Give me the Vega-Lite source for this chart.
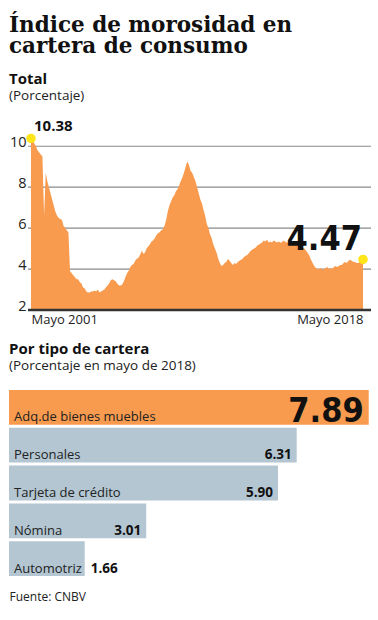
{
  "$schema": "https://vega.github.io/schema/vega-lite/v6.json",
  "background": "white",
  "padding": {"left": 8, "top": 14, "right": 0, "bottom": 10},
  "title": {
    "text": ["Índice de morosidad en", "cartera de consumo"],
    "anchor": "start",
    "frame": "group",
    "font": "DejaVu Serif",
    "fontSize": 21.5,
    "fontWeight": "bold",
    "lineHeight": 21,
    "color": "#111111",
    "offset": 14
  },
  "spacing": 14,
  "datasets": {
    "serie": [
      {"fecha": "2001-05-01", "v": 10.38}, {"fecha": "2001-06-01", "v": 10.3}, {"fecha": "2001-07-01", "v": 10.15}, {"fecha": "2001-08-01", "v": 10.0},
      {"fecha": "2001-09-01", "v": 9.8}, {"fecha": "2001-10-01", "v": 9.7}, {"fecha": "2001-11-01", "v": 9.6}, {"fecha": "2001-12-01", "v": 9.5},
      {"fecha": "2002-01-01", "v": 6.6}, {"fecha": "2002-02-01", "v": 8.7}, {"fecha": "2002-03-01", "v": 8.3}, {"fecha": "2002-04-01", "v": 8.0},
      {"fecha": "2002-05-01", "v": 7.7}, {"fecha": "2002-06-01", "v": 7.4}, {"fecha": "2002-07-01", "v": 7.1}, {"fecha": "2002-08-01", "v": 6.8},
      {"fecha": "2002-09-01", "v": 6.6}, {"fecha": "2002-10-01", "v": 6.5}, {"fecha": "2002-11-01", "v": 6.45}, {"fecha": "2002-12-01", "v": 6.4},
      {"fecha": "2003-01-01", "v": 6.1}, {"fecha": "2003-02-01", "v": 6.0}, {"fecha": "2003-03-01", "v": 5.9}, {"fecha": "2003-04-01", "v": 5.8},
      {"fecha": "2003-05-01", "v": 3.9}, {"fecha": "2003-06-01", "v": 3.8}, {"fecha": "2003-07-01", "v": 3.7}, {"fecha": "2003-08-01", "v": 3.6},
      {"fecha": "2003-09-01", "v": 3.5}, {"fecha": "2003-10-01", "v": 3.5}, {"fecha": "2003-11-01", "v": 3.35}, {"fecha": "2003-12-01", "v": 3.3},
      {"fecha": "2004-01-01", "v": 3.1}, {"fecha": "2004-02-01", "v": 3.05}, {"fecha": "2004-03-01", "v": 2.9}, {"fecha": "2004-04-01", "v": 2.85},
      {"fecha": "2004-05-01", "v": 2.85}, {"fecha": "2004-06-01", "v": 2.9}, {"fecha": "2004-07-01", "v": 2.9}, {"fecha": "2004-08-01", "v": 2.95},
      {"fecha": "2004-09-01", "v": 2.9}, {"fecha": "2004-10-01", "v": 3.0}, {"fecha": "2004-11-01", "v": 2.85}, {"fecha": "2004-12-01", "v": 2.9},
      {"fecha": "2005-01-01", "v": 2.95}, {"fecha": "2005-02-01", "v": 3.0}, {"fecha": "2005-03-01", "v": 3.1}, {"fecha": "2005-04-01", "v": 3.2},
      {"fecha": "2005-05-01", "v": 3.3}, {"fecha": "2005-06-01", "v": 3.45}, {"fecha": "2005-07-01", "v": 3.5}, {"fecha": "2005-08-01", "v": 3.45},
      {"fecha": "2005-09-01", "v": 3.4}, {"fecha": "2005-10-01", "v": 3.3}, {"fecha": "2005-11-01", "v": 3.2}, {"fecha": "2005-12-01", "v": 3.2},
      {"fecha": "2006-01-01", "v": 3.25}, {"fecha": "2006-02-01", "v": 3.4}, {"fecha": "2006-03-01", "v": 3.6}, {"fecha": "2006-04-01", "v": 3.8},
      {"fecha": "2006-05-01", "v": 3.9}, {"fecha": "2006-06-01", "v": 4.1}, {"fecha": "2006-07-01", "v": 4.2}, {"fecha": "2006-08-01", "v": 4.25},
      {"fecha": "2006-09-01", "v": 4.4}, {"fecha": "2006-10-01", "v": 4.5}, {"fecha": "2006-11-01", "v": 4.55}, {"fecha": "2006-12-01", "v": 4.7},
      {"fecha": "2007-01-01", "v": 4.9}, {"fecha": "2007-02-01", "v": 4.75}, {"fecha": "2007-03-01", "v": 4.8}, {"fecha": "2007-04-01", "v": 5.0},
      {"fecha": "2007-05-01", "v": 5.1}, {"fecha": "2007-06-01", "v": 5.2}, {"fecha": "2007-07-01", "v": 5.35}, {"fecha": "2007-08-01", "v": 5.4},
      {"fecha": "2007-09-01", "v": 5.5}, {"fecha": "2007-10-01", "v": 5.65}, {"fecha": "2007-11-01", "v": 5.75}, {"fecha": "2007-12-01", "v": 5.8},
      {"fecha": "2008-01-01", "v": 5.9}, {"fecha": "2008-02-01", "v": 5.95}, {"fecha": "2008-03-01", "v": 6.1}, {"fecha": "2008-04-01", "v": 6.4},
      {"fecha": "2008-05-01", "v": 6.8}, {"fecha": "2008-06-01", "v": 7.1}, {"fecha": "2008-07-01", "v": 7.3}, {"fecha": "2008-08-01", "v": 7.5},
      {"fecha": "2008-09-01", "v": 7.6}, {"fecha": "2008-10-01", "v": 7.8}, {"fecha": "2008-11-01", "v": 7.9}, {"fecha": "2008-12-01", "v": 8.1},
      {"fecha": "2009-01-01", "v": 8.3}, {"fecha": "2009-02-01", "v": 8.5}, {"fecha": "2009-03-01", "v": 8.7}, {"fecha": "2009-04-01", "v": 9.0},
      {"fecha": "2009-05-01", "v": 9.25}, {"fecha": "2009-06-01", "v": 9.1}, {"fecha": "2009-07-01", "v": 8.8}, {"fecha": "2009-08-01", "v": 8.7},
      {"fecha": "2009-09-01", "v": 8.5}, {"fecha": "2009-10-01", "v": 8.3}, {"fecha": "2009-11-01", "v": 8.0}, {"fecha": "2009-12-01", "v": 7.7},
      {"fecha": "2010-01-01", "v": 7.4}, {"fecha": "2010-02-01", "v": 7.2}, {"fecha": "2010-03-01", "v": 6.9}, {"fecha": "2010-04-01", "v": 6.6},
      {"fecha": "2010-05-01", "v": 6.2}, {"fecha": "2010-06-01", "v": 6.0}, {"fecha": "2010-07-01", "v": 5.7}, {"fecha": "2010-08-01", "v": 5.5},
      {"fecha": "2010-09-01", "v": 5.2}, {"fecha": "2010-10-01", "v": 5.0}, {"fecha": "2010-11-01", "v": 4.8}, {"fecha": "2010-12-01", "v": 4.5},
      {"fecha": "2011-01-01", "v": 4.3}, {"fecha": "2011-02-01", "v": 4.15}, {"fecha": "2011-03-01", "v": 4.2}, {"fecha": "2011-04-01", "v": 4.3},
      {"fecha": "2011-05-01", "v": 4.35}, {"fecha": "2011-06-01", "v": 4.5}, {"fecha": "2011-07-01", "v": 4.4}, {"fecha": "2011-08-01", "v": 4.3},
      {"fecha": "2011-09-01", "v": 4.2}, {"fecha": "2011-10-01", "v": 4.3}, {"fecha": "2011-11-01", "v": 4.25}, {"fecha": "2011-12-01", "v": 4.35},
      {"fecha": "2012-01-01", "v": 4.4}, {"fecha": "2012-02-01", "v": 4.45}, {"fecha": "2012-03-01", "v": 4.5}, {"fecha": "2012-04-01", "v": 4.6},
      {"fecha": "2012-05-01", "v": 4.65}, {"fecha": "2012-06-01", "v": 4.7}, {"fecha": "2012-07-01", "v": 4.8}, {"fecha": "2012-08-01", "v": 4.9},
      {"fecha": "2012-09-01", "v": 4.95}, {"fecha": "2012-10-01", "v": 5.0}, {"fecha": "2012-11-01", "v": 5.05}, {"fecha": "2012-12-01", "v": 5.15},
      {"fecha": "2013-01-01", "v": 5.2}, {"fecha": "2013-02-01", "v": 5.25}, {"fecha": "2013-03-01", "v": 5.3}, {"fecha": "2013-04-01", "v": 5.4},
      {"fecha": "2013-05-01", "v": 5.35}, {"fecha": "2013-06-01", "v": 5.45}, {"fecha": "2013-07-01", "v": 5.3}, {"fecha": "2013-08-01", "v": 5.35},
      {"fecha": "2013-09-01", "v": 5.3}, {"fecha": "2013-10-01", "v": 5.4}, {"fecha": "2013-11-01", "v": 5.35}, {"fecha": "2013-12-01", "v": 5.3},
      {"fecha": "2014-01-01", "v": 5.35}, {"fecha": "2014-02-01", "v": 5.3}, {"fecha": "2014-03-01", "v": 5.3}, {"fecha": "2014-04-01", "v": 5.4},
      {"fecha": "2014-05-01", "v": 5.35}, {"fecha": "2014-06-01", "v": 5.3}, {"fecha": "2014-07-01", "v": 5.3}, {"fecha": "2014-08-01", "v": 5.25},
      {"fecha": "2014-09-01", "v": 5.3}, {"fecha": "2014-10-01", "v": 5.25}, {"fecha": "2014-11-01", "v": 5.2}, {"fecha": "2014-12-01", "v": 5.2},
      {"fecha": "2015-01-01", "v": 5.15}, {"fecha": "2015-02-01", "v": 5.1}, {"fecha": "2015-03-01", "v": 5.1}, {"fecha": "2015-04-01", "v": 5.05},
      {"fecha": "2015-05-01", "v": 5.0}, {"fecha": "2015-06-01", "v": 4.9}, {"fecha": "2015-07-01", "v": 4.8}, {"fecha": "2015-08-01", "v": 4.65},
      {"fecha": "2015-09-01", "v": 4.45}, {"fecha": "2015-10-01", "v": 4.3}, {"fecha": "2015-11-01", "v": 4.15}, {"fecha": "2015-12-01", "v": 4.05},
      {"fecha": "2016-01-01", "v": 4.0}, {"fecha": "2016-02-01", "v": 4.0}, {"fecha": "2016-03-01", "v": 4.05}, {"fecha": "2016-04-01", "v": 3.95},
      {"fecha": "2016-05-01", "v": 4.0}, {"fecha": "2016-06-01", "v": 4.05}, {"fecha": "2016-07-01", "v": 4.1}, {"fecha": "2016-08-01", "v": 4.0},
      {"fecha": "2016-09-01", "v": 4.05}, {"fecha": "2016-10-01", "v": 4.0}, {"fecha": "2016-11-01", "v": 4.1}, {"fecha": "2016-12-01", "v": 4.15},
      {"fecha": "2017-01-01", "v": 4.1}, {"fecha": "2017-02-01", "v": 4.15}, {"fecha": "2017-03-01", "v": 4.2}, {"fecha": "2017-04-01", "v": 4.2},
      {"fecha": "2017-05-01", "v": 4.3}, {"fecha": "2017-06-01", "v": 4.35}, {"fecha": "2017-07-01", "v": 4.3}, {"fecha": "2017-08-01", "v": 4.4},
      {"fecha": "2017-09-01", "v": 4.45}, {"fecha": "2017-10-01", "v": 4.4}, {"fecha": "2017-11-01", "v": 4.35}, {"fecha": "2017-12-01", "v": 4.35},
      {"fecha": "2018-01-01", "v": 4.3}, {"fecha": "2018-02-01", "v": 4.3}, {"fecha": "2018-03-01", "v": 4.35}, {"fecha": "2018-04-01", "v": 4.4},
      {"fecha": "2018-05-01", "v": 4.47}
    ],
    "rejilla": [
      {"v": 4, "desde": "2001-03-06", "hasta": "2018-09-27"},
      {"v": 6, "desde": "2001-03-06", "hasta": "2018-09-27"},
      {"v": 8, "desde": "2001-03-06", "hasta": "2018-09-27"},
      {"v": 10, "desde": "2001-03-06", "hasta": "2018-09-27"}
    ],
    "base": [
      {"v": 2, "desde": "2001-03-06", "hasta": "2018-09-27"}
    ],
    "tipos": [
      {"tipo": "Adq.de bienes muebles", "v": 7.89},
      {"tipo": "Personales", "v": 6.31},
      {"tipo": "Tarjeta de crédito", "v": 5.90},
      {"tipo": "Nómina", "v": 3.01},
      {"tipo": "Automotriz", "v": 1.66}
    ]
  },
  "vconcat": [
    {
      "width": 362,
      "height": 174,
      "title": {
        "text": "Total",
        "subtitle": "(Porcentaje)",
        "anchor": "start",
        "frame": "group",
        "font": "Open Sans",
        "fontSize": 15,
        "fontWeight": "bold",
        "color": "#111111",
        "subtitleFont": "Open Sans",
        "subtitleFontSize": 13.5,
        "subtitleColor": "#222222",
        "subtitlePadding": 2,
        "offset": 17
      },
      "layer": [
        {
          "data": {"name": "rejilla", "format": {"parse": {"desde": "date", "hasta": "date"}}},
          "mark": {"type": "rule", "color": "#8a8a8a", "strokeWidth": 1.2},
          "encoding": {
            "x": {"field": "desde", "type": "temporal"},
            "x2": {"field": "hasta"},
            "y": {"field": "v", "type": "quantitative"}
          }
        },
        {
          "data": {"name": "serie"},
          "mark": {"type": "area", "color": "#F89B4F", "opacity": 1, "interpolate": "linear"},
          "encoding": {
            "x": {
              "field": "fecha",
              "type": "temporal",
              "scale": {"domain": [{"year": 2000, "month": 3, "date": 16}, {"year": 2018, "month": 9, "date": 27}]},
              "axis": {
                "title": null,
                "values": [{"year": 2001, "month": 5, "date": 1}, {"year": 2018, "month": 5, "date": 1}],
                "labelExpr": "'Mayo ' + timeFormat(datum.value, '%Y')",
                "grid": false,
                "domain": false,
                "ticks": false,
                "labelFlush": 25,
                "labelOverlap": false,
                "labelFont": "Open Sans",
                "labelFontSize": 13,
                "labelColor": "#222222",
                "labelPadding": 3
              }
            },
            "y": {
              "field": "v",
              "type": "quantitative",
              "scale": {"domain": [2, 10.5], "zero": false, "nice": false},
              "axis": {
                "title": null,
                "values": [2, 4, 6, 8, 10],
                "grid": false,
                "domain": false,
                "ticks": false,
                "labelAlign": "right",
                "labelBaseline": "alphabetic",
                "labelPadding": -17,
                "labelFont": "Open Sans",
                "labelFontSize": 14.5,
                "labelColor": "#222222"
              }
            },
            "y2": {"datum": 2}
          }
        },
        {
          "data": {"name": "base", "format": {"parse": {"desde": "date", "hasta": "date"}}},
          "mark": {"type": "rule", "color": "#333333", "strokeWidth": 2.5},
          "encoding": {
            "x": {"field": "desde", "type": "temporal"},
            "x2": {"field": "hasta"},
            "y": {"field": "v", "type": "quantitative"}
          }
        },
        {
          "data": {"name": "serie"},
          "transform": [{"filter": "datum.v == 10.38 || datum.v == 4.47"}],
          "mark": {"type": "circle", "color": "#FFE41A", "opacity": 1, "size": 90},
          "encoding": {
            "x": {"field": "fecha", "type": "temporal"},
            "y": {"field": "v", "type": "quantitative"}
          }
        },
        {
          "data": {"name": "serie"},
          "transform": [{"filter": "datum.v == 10.38"}],
          "mark": {"type": "text", "align": "left", "baseline": "alphabetic", "dx": 3, "dy": -7, "font": "Open Sans", "fontSize": 15, "fontWeight": "bold", "color": "#111111"},
          "encoding": {
            "x": {"field": "fecha", "type": "temporal"},
            "y": {"field": "v", "type": "quantitative"},
            "text": {"field": "v", "type": "quantitative", "format": ".2f"}
          }
        },
        {
          "data": {"name": "serie"},
          "transform": [{"filter": "datum.v == 4.47"}],
          "mark": {"type": "text", "align": "right", "baseline": "alphabetic", "dx": -1, "dy": -9, "font": "DejaVu Sans Condensed, sans-serif", "fontSize": 34, "fontWeight": "bold", "color": "#111111"},
          "encoding": {
            "x": {"field": "fecha", "type": "temporal"},
            "y": {"field": "v", "type": "quantitative"},
            "text": {"field": "v", "type": "quantitative", "format": ".2f"}
          }
        }
      ]
    },
    {
      "width": 362,
      "height": 186,
      "data": {"name": "tipos"},
      "title": {
        "text": "Por tipo de cartera",
        "subtitle": "(Porcentaje en mayo de 2018)",
        "anchor": "start",
        "frame": "group",
        "font": "Open Sans",
        "fontSize": 15,
        "fontWeight": "bold",
        "color": "#111111",
        "subtitleFont": "Open Sans",
        "subtitleFontSize": 13.5,
        "subtitleColor": "#222222",
        "subtitlePadding": 2,
        "offset": 18
      },
      "encoding": {
        "y": {"field": "tipo", "type": "nominal", "sort": null, "axis": null, "scale": {"paddingInner": 0.08, "paddingOuter": 0}}
      },
      "layer": [
        {
          "mark": {"type": "bar"},
          "encoding": {
            "x": {
              "field": "v",
              "type": "quantitative",
              "scale": {"domain": [0, 7.94], "nice": false},
              "axis": {
                "title": "Fuente: CNBV",
                "labels": false,
                "ticks": false,
                "domain": false,
                "grid": false,
                "titleAnchor": "start",
                "titleAlign": "left",
                "titleFont": "Open Sans",
                "titleFontSize": 12,
                "titleFontWeight": "normal",
                "titleColor": "#222222",
                "titlePadding": 15
              }
            },
            "color": {
              "field": "tipo",
              "type": "nominal",
              "legend": null,
              "scale": {
                "domain": ["Adq.de bienes muebles", "Personales", "Tarjeta de crédito", "Nómina", "Automotriz"],
                "range": ["#F89B4F", "#B3C6D2", "#B3C6D2", "#B3C6D2", "#B3C6D2"]
              }
            }
          }
        },
        {
          "mark": {"type": "text", "align": "left", "baseline": "alphabetic", "dx": 5, "dy": 14, "font": "Open Sans", "fontSize": 13, "color": "#222222"},
          "encoding": {
            "x": {"datum": 0, "type": "quantitative"},
            "text": {"field": "tipo", "type": "nominal"}
          }
        },
        {
          "transform": [{"filter": "datum.v > 2 && datum.v < 7"}],
          "mark": {"type": "text", "align": "right", "baseline": "alphabetic", "dx": -5, "dy": 14, "font": "Open Sans", "fontSize": 13.5, "fontWeight": "bold", "color": "#111111"},
          "encoding": {
            "x": {"field": "v", "type": "quantitative"},
            "text": {"field": "v", "type": "quantitative", "format": ".2f"}
          }
        },
        {
          "transform": [{"filter": "datum.v < 2"}],
          "mark": {"type": "text", "align": "left", "baseline": "alphabetic", "dx": 6, "dy": 14, "font": "Open Sans", "fontSize": 13.5, "fontWeight": "bold", "color": "#111111"},
          "encoding": {
            "x": {"field": "v", "type": "quantitative"},
            "text": {"field": "v", "type": "quantitative", "format": ".2f"}
          }
        },
        {
          "transform": [{"filter": "datum.v > 7"}],
          "mark": {"type": "text", "align": "right", "baseline": "alphabetic", "dx": -5, "dy": 15, "font": "DejaVu Sans Condensed, sans-serif", "fontSize": 34, "fontWeight": "bold", "color": "#111111"},
          "encoding": {
            "x": {"field": "v", "type": "quantitative"},
            "text": {"field": "v", "type": "quantitative", "format": ".2f"}
          }
        }
      ]
    }
  ],
  "config": {
    "view": {"stroke": "transparent"}
  }
}
